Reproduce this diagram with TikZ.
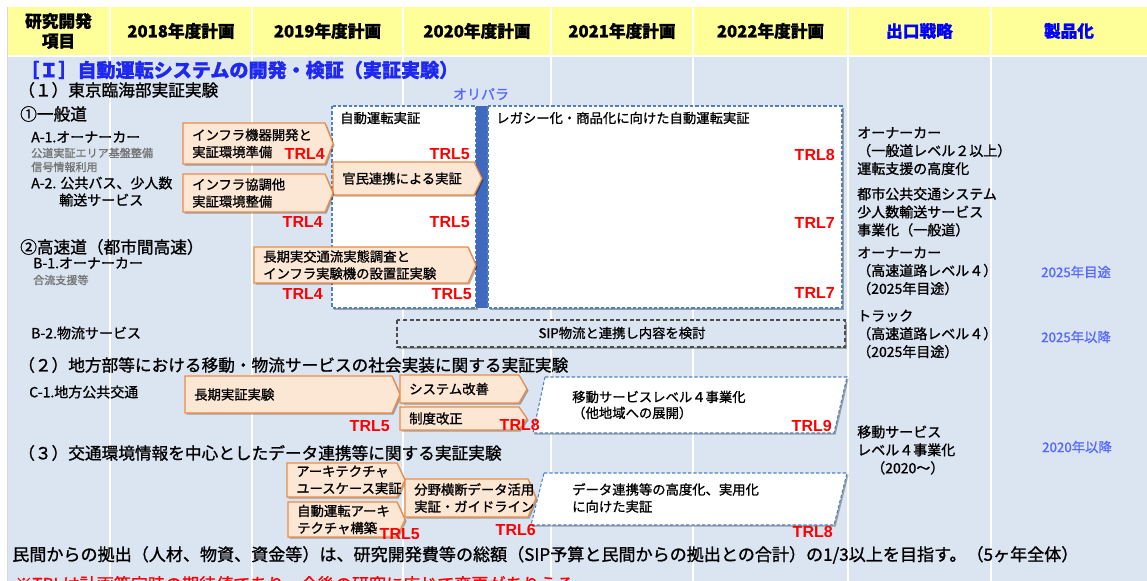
\documentclass[tikz,border=0pt]{standalone}
\usepackage{fontspec}
\setmainfont{Noto Sans CJK JP}[FakeBold=1.1]
\newfontfamily\trlfont{Liberation Sans}
\usetikzlibrary{positioning}
\definecolor{headyellow}{RGB}{255,255,153}
\definecolor{bodyblue}{RGB}{219,228,241}
\definecolor{titleblue}{RGB}{30,40,240}
\definecolor{paleblue}{RGB}{85,105,255}
\definecolor{dashblue}{RGB}{79,129,189}
\definecolor{barblue}{RGB}{63,106,190}
\definecolor{phasefill}{RGB}{252,230,212}
\definecolor{phaseline}{RGB}{238,140,70}
\definecolor{notegray}{gray}{.45}
\definecolor{trlred}{RGB}{255,0,0}

\tikzset{
  shadowed/.style={preaction={fill=black,opacity=.3,transform canvas={xshift=1.2pt,yshift=-1.2pt}}},
  planbox/.style={shadowed,draw=dashblue,fill=white,line width=.8pt,dash pattern=on 2.5pt off 1.5pt},
  phasebox/.style={shadowed,draw=phaseline,fill=phasefill,line width=.9pt},
  phasetext/.style={font=\fontsize{10}{12.8}\selectfont,align=left,inner sep=0pt,anchor=west},
  trl/.style={font=\trlfont\bfseries\fontsize{12}{12}\selectfont,text=trlred,inner sep=0pt,anchor=east},
  colhead/.style={font=\bfseries\fontsize{12.5}{15}\selectfont,align=center,inner sep=0pt},
  sectitle/.style={font=\fontsize{12.5}{15}\selectfont,inner sep=0pt,anchor=west},
  rowitem/.style={font=\fontsize{10.5}{13}\selectfont,inner sep=0pt,anchor=west},
  rownote/.style={font=\fontsize{8.3}{10}\selectfont,text=notegray,inner sep=0pt,anchor=west},
  exittext/.style={font=\fontsize{10.5}{13.5}\selectfont,align=left,inner sep=0pt,anchor=west},
  prodtext/.style={font=\fontsize{10}{12}\selectfont,text=paleblue,inner sep=0pt},
}

% name, left, top, tip, bottom, text
\newcommand{\phasearrow}[6]{%
  \draw[phasebox] (#2,#3) -- ({#4-8},#3) -- (#4,{(#3+#5)/2}) -- ({#4-8},#5) -- (#2,#5) -- cycle;
  \node[phasetext] (#1) at ({#2+9},{(#3+#5)/2}) {#6};
}

\begin{document}
\begin{tikzpicture}[x=0.75pt,y=-0.75pt]
  \useasboundingbox (0,0) rectangle (1147,581);
  \clip (0,0) rectangle (1147,581);
  % table background
  \fill[bodyblue] (7,57) rectangle (1147,581);
  \fill[headyellow] (7,7) rectangle (1147,55);
  \draw[black!15] (7,7) -- (7,581);
  \foreach \sx in {110,252,403,551,693,848,991}
    \draw[white,line width=1.2pt] (\sx,7) -- (\sx,581);

  % header row
  \node[colhead] (hitem) at (58.5,31) {研究開発\\項目};
  \foreach \cx/\yr in {181/2018,327.5/2019,477/2020,622/2021,770.5/2022}
    \node[colhead] (h\yr) at (\cx,31) {\yr 年度計画};
  \node[colhead,text=blue] (hexit) at (919.5,31) {出口戦略};
  \node[colhead,text=blue] (hprod) at (1069,31) {製品化};

  % left column
  \node[sectitle,text=titleblue,font=\bfseries\fontsize{14.3}{16}\selectfont] (title) at (20,70) {［Ｉ］自動運転システムの開発・検証（実証実験）};
  \node[sectitle] (secone) at (18,90) {（１）東京臨海部実証実験};
  \node[sectitle] (roadone) at (20,114) {①一般道};
  \node[rowitem] (itema1) at (31,137) {A-1.オーナーカー};
  \node[rownote] (notea1) at (31,153) {公道実証エリア基盤整備};
  \node[rownote] (notea1b) at (31,167) {信号情報利用};
  \node[rowitem] (itema2) at (31,183) {A-2. 公共バス、少人数};
  \node[rowitem] (itema2b) at (59,200) {輸送サービス};
  \node[sectitle] (roadtwo) at (20,247) {②高速道（都市間高速）};
  \node[rowitem] (itemb1) at (33,263) {B-1.オーナーカー};
  \node[rownote] (noteb1) at (33,280) {合流支援等};
  \node[rowitem] (itemb2) at (31,333) {B-2.物流サービス};
  \node[sectitle] (sectwo) at (18,365) {（２）地方部等における移動・物流サービスの社会実装に関する実証実験};
  \node[rowitem] (itemc1) at (29,392) {C-1.地方公共交通};
  \node[sectitle] (secthree) at (18,453) {（３）交通環境情報を中心としたデータ連携等に関する実証実験};

  % demonstration boxes
  \draw[planbox] (332,106) rectangle (476,308);
  \fill[barblue] (476,106) rectangle (488,308);
  \draw[planbox] (488,106) rectangle (842,308);
  \node[phasetext] (demo) at (340,118) {自動運転実証};
  \node[phasetext] (legacy) at (496,118) {レガシー化・商品化に向けた自動運転実証};
  \node[prodtext,font=\fontsize{10.5}{12}\selectfont] (olympic) at (481,94) {オリパラ};

  \phasearrow{infra}{183}{123}{333}{164}{インフラ機器開発と\\実証環境準備}
  \phasearrow{public}{333}{162}{482}{195}{官民連携による実証}
  \phasearrow{coop}{183}{174}{333}{212}{インフラ協調他\\実証環境整備}
  \phasearrow{survey}{254}{247}{476}{283}{長期実交通流実態調査と\\インフラ実験機の設置証実験}

  \draw[shadowed,draw=black!70,dash pattern=on 3pt off 2pt,line width=.8pt,fill=bodyblue] (397,320) rectangle (845,347);
  \node[phasetext,anchor=center] (sip) at (622,333) {SIP物流と連携し内容を検討};

  \phasearrow{longrun}{185}{376}{400}{413}{長期実証実験}
  \phasearrow{sysfix}{400}{375}{527}{403}{システム改善}
  \phasearrow{rulefix}{400}{407}{527}{430}{制度改正}
  \draw[planbox] (545,377) -- (847,377) -- (834,433) -- (533,433) -- cycle;
  \node[phasetext,font=\fontsize{10}{12}\selectfont] (mobility) at (572,405) {移動サービスレベル４事業化\\（他地域への展開）};

  \phasearrow{usecase}{287}{463}{405}{497}{アーキテクチャ\\ユースケース実証}
  \phasearrow{archi}{288}{502}{405}{537}{自動運転アーキ\\テクチャ構築}
  \phasearrow{crossdata}{405}{479}{536}{517}{分野横断データ活用\\実証・ガイドライン}
  \draw[planbox] (544,473) -- (847,473) -- (834,525) -- (531,525) -- cycle;
  \node[phasetext] (datalink) at (572,498) {データ連携等の高度化、実用化\\に向けた実証};

  % TRL levels
  \node[trl] (t1) at (325,154) {TRL4};
  \node[trl] (t2) at (470,154) {TRL5};
  \node[trl] (t3) at (835,155) {TRL8};
  \node[trl] (t4) at (323,222) {TRL4};
  \node[trl] (t5) at (470,222) {TRL5};
  \node[trl] (t6) at (835,223) {TRL7};
  \node[trl] (t7) at (323,294) {TRL4};
  \node[trl] (t8) at (472,294) {TRL5};
  \node[trl] (t9) at (835,293) {TRL7};
  \node[trl] (t10) at (390,426) {TRL5};
  \node[trl] (t11) at (540,425) {TRL8};
  \node[trl] (t12) at (832,426) {TRL9};
  \node[trl] (t13) at (420,534) {TRL5};
  \node[trl] (t14) at (536,530) {TRL6};
  \node[trl] (t15) at (833,532) {TRL8};

  % exit strategy
  \node[exittext] (exit1) at (857,151) {オーナーカー\\（一般道レベル２以上）\\運転支援の高度化};
  \node[exittext] (exit2) at (857,212) {都市公共交通システム\\少人数輸送サービス\\事業化（一般道）};
  \node[exittext] (exit3) at (857,271) {オーナーカー\\（高速道路レベル４）\\（2025年目途）};
  \node[exittext] (exit4) at (857,334) {トラック\\（高速道路レベル４）\\（2025年目途）};
  \node[exittext] (exit5) at (857,450) {移動サービス\\レベル４事業化\\\hspace*{1em}（2020～）};

  % products
  \node[prodtext] (prod1) at (1076,272) {2025年目途};
  \node[prodtext] (prod2) at (1076,337) {2025年以降};
  \node[prodtext] (prod3) at (1077,447) {2020年以降};

  % notes
  \node[sectitle,font=\fontsize{12.8}{14}\selectfont] (funding) at (12,555) {民間からの拠出（人材、物資、資金等）は、研究開発費等の総額（SIP予算と民間からの拠出との合計）の1/3以上を目指す。（5ヶ年全体）};
  \node[sectitle,text=red,font=\fontsize{12.8}{14}\selectfont] (trlnote) at (15,584) {※TRLは計画策定時の期待値であり、今後の研究に応じて変更がありうる};
\end{tikzpicture}
\end{document}
